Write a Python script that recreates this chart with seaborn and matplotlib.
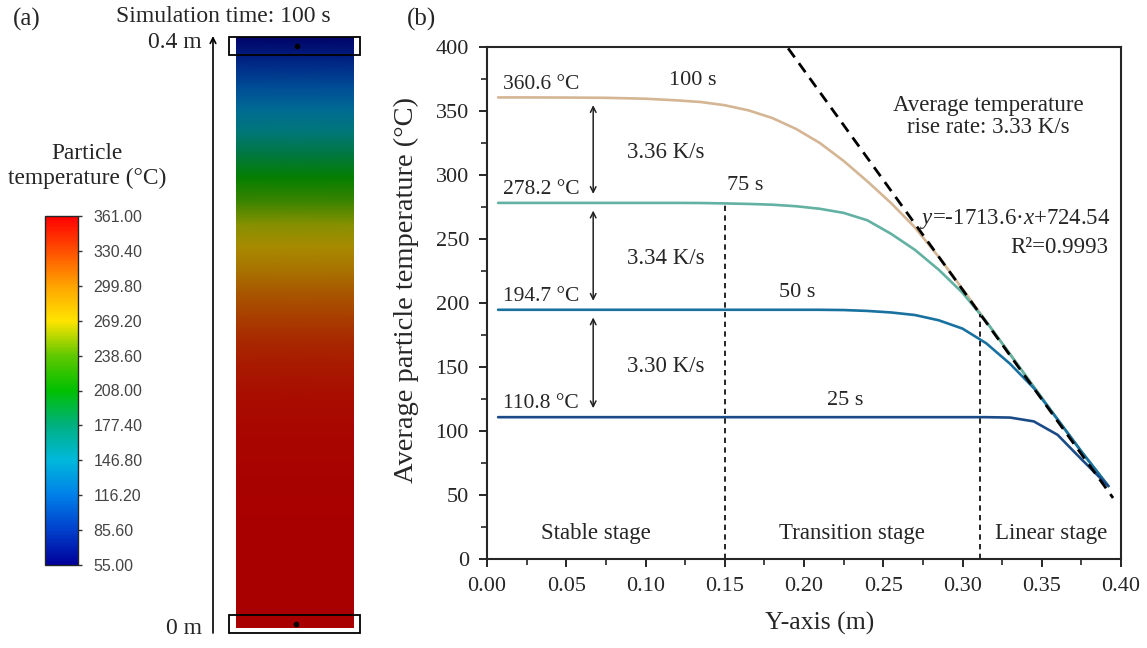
import numpy as np
import pandas as pd
import matplotlib
matplotlib.use("Agg")
import matplotlib.pyplot as plt
import seaborn as sns
from matplotlib.colors import LinearSegmentedColormap, Normalize
from matplotlib.cm import ScalarMappable
from matplotlib.patches import Rectangle

#
# values

y_pos = [0.007, 0.025, 0.05, 0.075, 0.10, 0.12, 0.135, 0.15, 0.165, 0.18,
         0.195, 0.21, 0.225, 0.24, 0.255, 0.27, 0.285, 0.30, 0.315, 0.33,
         0.345, 0.36, 0.375, 0.392]
t_100s = [360.6, 360.6, 360.5, 360.3, 359.6, 358.3, 357.0, 354.5, 350.5, 344.5,
          336.0, 325.0, 311.0, 295.0, 278.0, 259.0, 236.0, 211.0, 185.5, 160.0,
          134.5, 109.0, 84.0, 57.0]
t_75s = [278.2, 278.2, 278.2, 278.2, 278.2, 278.2, 278.1, 277.8, 277.4, 276.8,
         275.6, 273.6, 270.4, 264.6, 254.0, 241.5, 226.0, 208.0, 185.5, 160.0,
         134.5, 109.0, 84.0, 57.0]
t_50s = [194.7, 194.7, 194.7, 194.7, 194.7, 194.7, 194.7, 194.7, 194.7, 194.7,
         194.7, 194.7, 194.5, 193.8, 192.6, 190.6, 186.5, 180.0, 168.5, 152.5,
         133.5, 109.0, 84.0, 57.0]
t_25s = [110.8, 110.8, 110.8, 110.8, 110.8, 110.8, 110.8, 110.8, 110.8, 110.8,
         110.8, 110.8, 110.8, 110.8, 110.8, 110.8, 110.8, 110.8, 110.8, 110.5,
         107.5, 97.0, 78.0, 57.0]

times = ["100 s", "75 s", "50 s", "25 s"]
plateau = [360.6, 278.2, 194.7, 110.8]
rates = ["3.36 K/s", "3.34 K/s", "3.30 K/s"]

fit_slope = -1713.6
fit_icept = 724.54
fit_x = [0.19, 0.395]

stage_bounds = [0.15, 0.311]
stage_names = ["Stable stage", "Transition stage", "Linear stage"]

cbar_ticks = [55.00, 85.60, 116.20, 146.80, 177.40, 208.00,
              238.60, 269.20, 299.80, 330.40, 361.00]

line_colors = ["#d4b594", "#62b1a2", "#19719f", "#1b4b86"]

#%%
# long table for seaborn

df = pd.DataFrame({
    "y": y_pos * 4,
    "T": t_100s + t_75s + t_50s + t_25s,
    "time": np.repeat(times, len(y_pos)),
})

sns.set_style("ticks")
plt.rcParams["font.family"] = ["Liberation Serif", "DejaVu Serif"]
plt.rcParams["mathtext.fontset"] = "custom"
plt.rcParams["mathtext.rm"] = "Liberation Serif"
plt.rcParams["mathtext.it"] = "Liberation Serif:italic"

W, H = 1147, 648
fig = plt.figure(figsize=(W / 100, H / 100), dpi=100)

#%%
# panel (b)

ax = fig.add_axes([487 / W, 1 - 559 / H, 634 / W, 512 / H])
sns.lineplot(data=df, x="y", y="T", hue="time", palette=line_colors,
             hue_order=times, legend=False, linewidth=1.9, sort=False, ax=ax)

fx = np.array(fit_x)
ax.plot(fx, fit_slope * fx + fit_icept, color="black", lw=2.0,
        ls=(0, (4, 2.6)), zorder=5)

top_a = t_75s[y_pos.index(0.15)]
top_b = fit_slope * stage_bounds[1] + fit_icept
ax.plot([stage_bounds[0]] * 2, [0, top_a], color="black", lw=1.2, ls=(0, (3.2, 2.6)))
ax.plot([stage_bounds[1]] * 2, [0, top_b], color="black", lw=1.2, ls=(0, (3.2, 2.6)))

ax.set_xlim(0, 0.40)
ax.set_ylim(0, 400)
ax.set_xticks(np.arange(0, 0.401, 0.05))
ax.set_xticks(np.arange(0, 0.401, 0.025), minor=True)
ax.set_yticks(np.arange(0, 401, 50))
ax.set_yticks(np.arange(0, 401, 25), minor=True)
ax.xaxis.set_major_formatter(matplotlib.ticker.FormatStrFormatter("%.2f"))
ax.tick_params(which="major", direction="out", length=6, width=1.4,
               labelsize=16, pad=7)
ax.tick_params(which="minor", direction="out", length=4, width=1.2)
for s in ax.spines.values():
    s.set_visible(True)
    s.set_linewidth(1.5)
ax.set_xlabel("Y-axis (m)", fontsize=18.5)
ax.set_ylabel("Average particle temperature (°C)", fontsize=20.5)
ax.xaxis.set_label_coords(0.524, -0.104)
ax.yaxis.set_label_coords(-0.108, 0.525)

fs = 16.5
for p in plateau:
    ax.text(0.01, p + 3, f"{p} °C", fontsize=15.5, ha="left", va="bottom")

ax.text(0.13, 374, times[0], fontsize=16, ha="center", va="center")
ax.text(0.163, 292, times[1], fontsize=16, ha="center", va="center")
ax.text(0.196, 208, times[2], fontsize=16, ha="center", va="center")
ax.text(0.226, 124, times[3], fontsize=16, ha="center", va="center")

for i, r in enumerate(rates):
    hi, lo = plateau[i], plateau[i + 1]
    ax.annotate("", xy=(0.067, lo + 7), xytext=(0.067, hi - 6),
                arrowprops=dict(arrowstyle="<->", color="#222222", lw=1.1,
                                shrinkA=0, shrinkB=0))
    ax.text(0.113, (hi + lo) / 2 - 2, r, fontsize=fs, ha="center", va="center")

ax.text(0.316, 346, "Average temperature\nrise rate: 3.33 K/s", fontsize=fs,
        ha="center", va="center", linespacing=1.05)
ax.text(0.393, 266, r"$\mathit{y}$=-1713.6·$\mathit{x}$+724.54", fontsize=fs,
        ha="right", va="center")
ax.text(0.392, 243, "R²=0.9993", fontsize=fs, ha="right", va="center")

stage_x = [0.069, 0.23, 0.356]
for sx, name in zip(stage_x, stage_names):
    ax.text(sx, 20, name, fontsize=fs, ha="center", va="center")

#%%
# panel (a): particle column coloured by the 100 s profile

base_colors = ["#00009a", "#0040cc", "#0080e8", "#00b8dc", "#00b080",
               "#00c000", "#60c800", "#ffe400", "#ffa400", "#ff5000", "#ff0000"]
pos = [(v - cbar_ticks[0]) / (cbar_ticks[-1] - cbar_ticks[0]) for v in cbar_ticks]
cmap = LinearSegmentedColormap.from_list("fluent", list(zip(pos, base_colors)))
dark = [tuple(c * 0.66 for c in matplotlib.colors.to_rgb(h)) for h in base_colors]
cmap_dark = LinearSegmentedColormap.from_list("fluent_dark", list(zip(pos, dark)))
norm = Normalize(cbar_ticks[0], cbar_ticks[-1])

ax_col = fig.add_axes([236 / W, 1 - 628 / H, 118 / W, 591 / H])
gx, gy = np.meshgrid([0, 1], y_pos)
gc = np.column_stack([t_100s, t_100s])
ax_col.pcolormesh(gx, gy, gc, cmap=cmap_dark, norm=norm, shading="gouraud")
ax_col.set_xlim(0, 1)
ax_col.set_ylim(y_pos[0], y_pos[-1])
ax_col.axis("off")

cax = fig.add_axes([45 / W, 1 - 565 / H, 33 / W, 349 / H])
cb = fig.colorbar(ScalarMappable(norm=norm, cmap=cmap), cax=cax, ticks=cbar_ticks)
cb.ax.set_yticklabels([f"{v:.2f}" for v in cbar_ticks], family="Liberation Sans",
                      fontsize=11.5, color="#444444")
cb.ax.tick_params(length=3, width=1, color="#333333", pad=8)
cb.outline.set_linewidth(1.0)

ov = fig.add_axes([0, 0, 1, 1])
ov.set_xlim(0, W)
ov.set_ylim(H, 0)
ov.axis("off")
ov.add_patch(Rectangle((229, 37), 131, 18, fill=False, ec="black", lw=1.3))
ov.add_patch(Rectangle((229, 615), 131, 18, fill=False, ec="black", lw=1.3))
ov.plot([297, 296], [46, 624], "o", color="black", ms=3)
ov.annotate("", xy=(213, 36), xytext=(213, 633),
            arrowprops=dict(arrowstyle="->", color="black", lw=1.2,
                            shrinkA=0, shrinkB=0))
ov.text(202, 42, "0.4 m", fontsize=17, ha="right", va="center")
ov.text(202, 628, "0 m", fontsize=17, ha="right", va="center")
ov.text(223, 17, "Simulation time: 100 s", fontsize=17, ha="center", va="center")
ov.text(87, 166, "Particle\ntemperature (°C)", fontsize=16.8, ha="center",
        va="center", linespacing=1.25)
ov.text(27, 19, "(a)", fontsize=18, ha="center", va="center")
ov.text(422, 19, "(b)", fontsize=18, ha="center", va="center")

fig.savefig("out.png", dpi=100)
